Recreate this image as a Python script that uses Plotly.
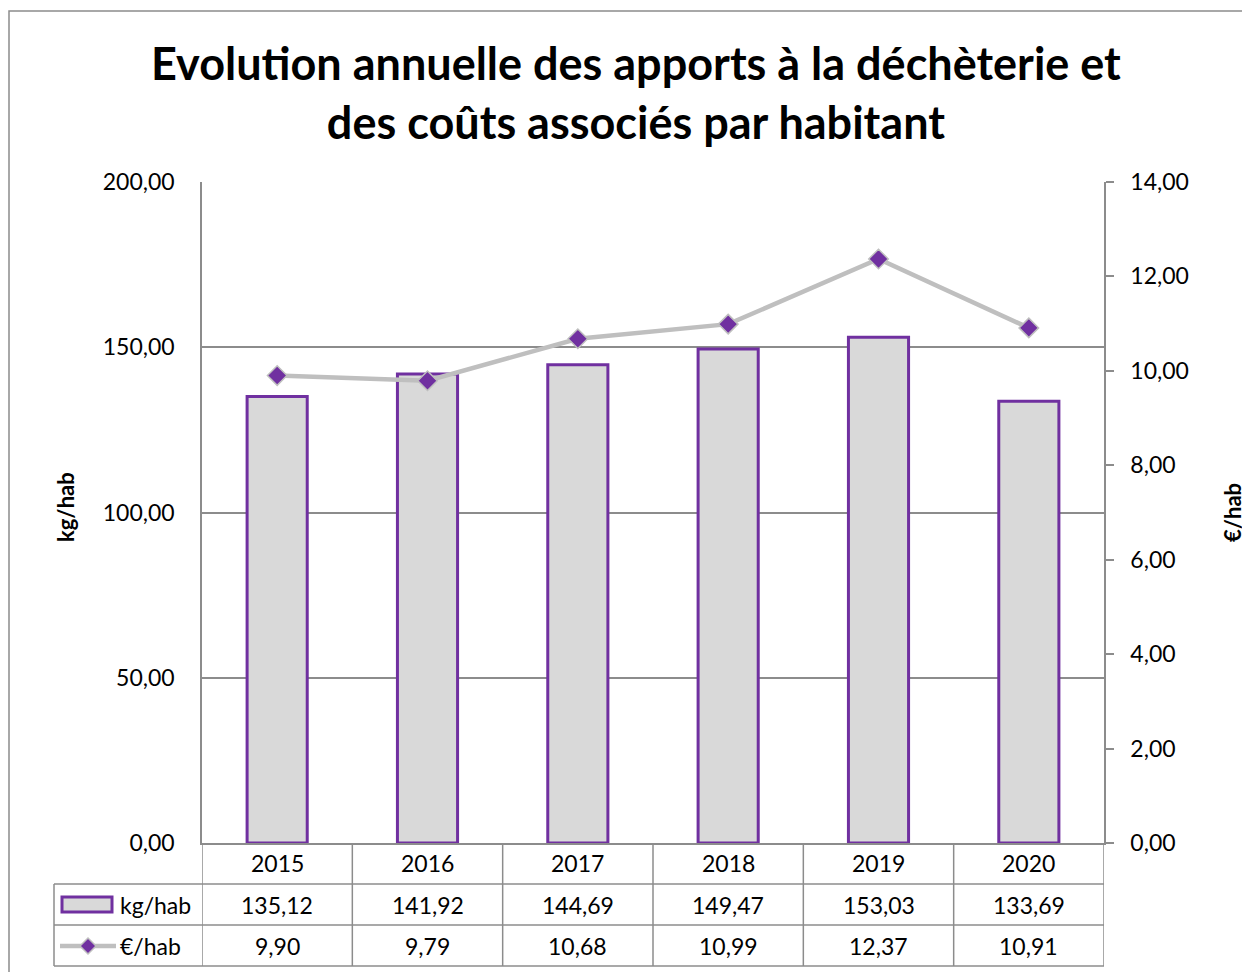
import plotly.graph_objects as go

years = ["2015", "2016", "2017", "2018", "2019", "2020"]
kg_hab = [135.12, 141.92, 144.69, 149.47, 153.03, 133.69]
eur_hab = [9.90, 9.79, 10.68, 10.99, 12.37, 10.91]
kg_labels = ["135,12", "141,92", "144,69", "149,47", "153,03", "133,69"]
eur_labels = ["9,90", "9,79", "10,68", "10,99", "12,37", "10,91"]

OFF = 8  # page body margin
W, H = 1250 - OFF, 972 - OFF
L, R, T, B = 202 - OFF, 1104 - OFF, 182 - OFF, 843 - OFF
PW, PH = R - L, B - T

def px(x):
    return (x - OFF - L) / PW

def py(y):
    return (B - (y - OFF)) / PH

FONT = "Lato, Carlito, Calibri, sans-serif"
PURPLE = "#7030a0"
GRAYLINE = "#bfbfbf"
GRID = "#8c8c8c"

fig = go.Figure()
fig.add_trace(go.Bar(
    x=years, y=kg_hab, name="kg/hab", width=0.4,
    marker=dict(color="#d9d9d9", line=dict(color=PURPLE, width=3)),
    yaxis="y",
))
fig.add_trace(go.Scatter(
    x=years, y=eur_hab, name="€/hab", mode="lines+markers",
    line=dict(color=GRAYLINE, width=4.5),
    marker=dict(symbol="diamond", size=15, color=PURPLE, line=dict(color=GRAYLINE, width=1.5)),
    yaxis="y2",
))

shapes = []
shapes.append(dict(type="rect", xref="paper", yref="paper", x0=px(9), x1=px(1270), y0=py(990), y1=py(11),
                   line=dict(color="#8c8c8c", width=1.5), layer="below"))
for yy in [884, 925, 966]:
    shapes.append(dict(type="line", xref="paper", yref="paper", x0=px(54), x1=px(1104),
                       y0=py(yy), y1=py(yy), line=dict(color=GRID, width=1.5)))
shapes.append(dict(type="line", xref="paper", yref="paper", x0=px(54), x1=px(54), y0=py(884), y1=py(966),
                   line=dict(color=GRID, width=1.5)))
for i in range(len(years) + 1):
    shapes.append(dict(type="line", xref="x", yref="paper", x0=i - 0.5, x1=i - 0.5, y0=py(966), y1=0,
                       line=dict(color=GRID, width=1.5)))
# legend keys
shapes.append(dict(type="rect", xref="paper", yref="paper", x0=px(62), x1=px(112), y0=py(912), y1=py(897),
                   fillcolor="#d9d9d9", line=dict(color=PURPLE, width=3)))
shapes.append(dict(type="line", xref="paper", yref="paper", x0=px(60), x1=px(116), y0=py(946), y1=py(946),
                   line=dict(color=GRAYLINE, width=4.5)))
cx, cy, r = 88, 946, 8
shapes.append(dict(type="path", xref="paper", yref="paper",
                   path=f"M {px(cx-r)},{py(cy)} L {px(cx)},{py(cy-r)} L {px(cx+r)},{py(cy)} L {px(cx)},{py(cy+r)} Z",
                   fillcolor=PURPLE, line=dict(color=GRAYLINE, width=1.5)))

TF = dict(size=23, family=FONT, color="black")
annotations = []
for i, yv in enumerate(years):
    annotations.append(dict(x=i, y=py(863), xref="x", yref="paper", text=yv, showarrow=False,
                            yanchor="middle", xanchor="center", font=TF))
    annotations.append(dict(x=i, y=py(905), xref="x", yref="paper", text=kg_labels[i], showarrow=False,
                            yanchor="middle", xanchor="center", font=TF))
    annotations.append(dict(x=i, y=py(946), xref="x", yref="paper", text=eur_labels[i], showarrow=False,
                            yanchor="middle", xanchor="center", font=TF))
annotations.append(dict(x=px(118), y=py(905), xref="paper", yref="paper", text="kg/hab", showarrow=False,
                        xanchor="left", yanchor="middle", font=TF))
annotations.append(dict(x=px(118), y=py(946), xref="paper", yref="paper", text="€/hab", showarrow=False,
                        xanchor="left", yanchor="middle", font=TF))
annotations.append(dict(x=px(636), y=py(92), xref="paper", yref="paper",
                        text="<b>Evolution annuelle des apports à la déchèterie et<br>des coûts associés par habitant</b>",
                        showarrow=False, xanchor="center", yanchor="middle",
                        font=dict(size=45, family=FONT, color="black")))
annotations.append(dict(x=px(65), y=py(507), xref="paper", yref="paper", text="<b>kg/hab</b>", textangle=-90,
                        showarrow=False, xanchor="center", yanchor="middle",
                        font=dict(size=22, family=FONT, color="black")))
annotations.append(dict(x=px(1232), y=py(513), xref="paper", yref="paper", text="<b>€/hab</b>", textangle=-90,
                        showarrow=False, xanchor="center", yanchor="middle",
                        font=dict(size=22, family=FONT, color="black")))

fig.update_layout(
    width=W, height=H,
    margin=dict(l=L, r=W - R, t=T, b=H - B, pad=0),
    paper_bgcolor="white", plot_bgcolor="white",
    showlegend=False,
    separators=", ",
    font=dict(family=FONT, size=23, color="black"),
    xaxis=dict(type="category", showticklabels=False, showgrid=False, zeroline=False,
               showline=True, linecolor=GRID, linewidth=1.5, ticks="",
               range=[-0.5, 5.5]),
    yaxis=dict(range=[0, 200], dtick=50, tickformat=".2f", showgrid=True, gridcolor=GRID, gridwidth=1.5,
               showline=True, linecolor=GRID, linewidth=1.5, zeroline=False, ticks="",
               ticklabelstandoff=21, tickfont=TF),
    yaxis2=dict(range=[0, 14], dtick=2, tickformat=".2f", overlaying="y", side="right", showgrid=False,
                showline=True, linecolor=GRID, linewidth=1.5, zeroline=False, ticks="outside",
                ticklen=8, tickcolor=GRID, tickwidth=1.5, ticklabelstandoff=12,
                tickfont=TF),
    shapes=shapes,
    annotations=annotations,
)
fig.write_html("out.html")
